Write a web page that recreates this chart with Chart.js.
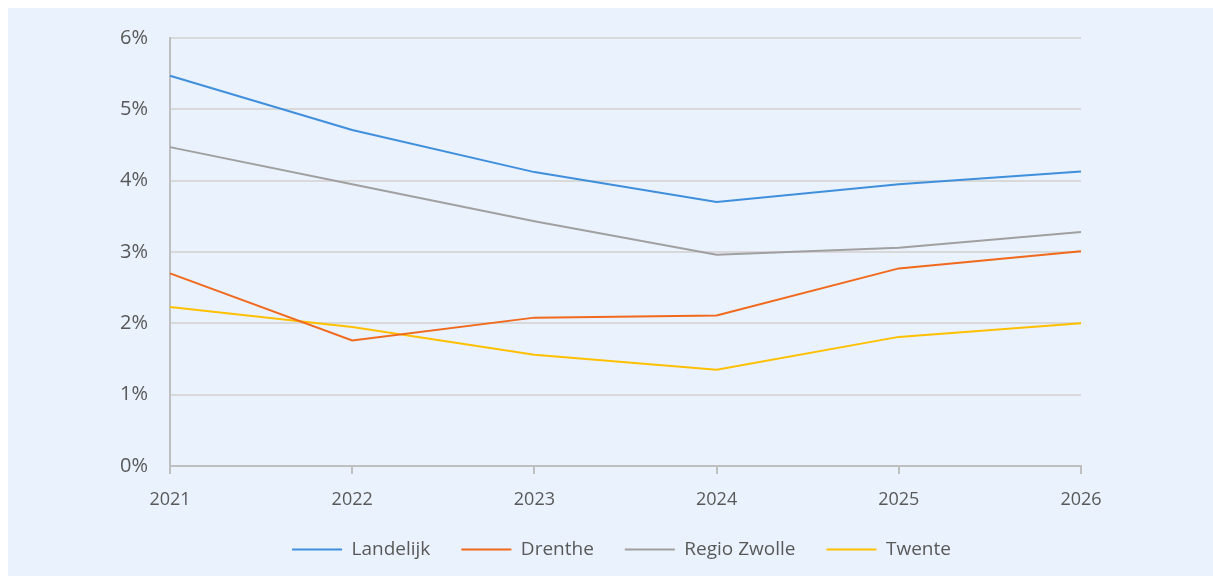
<!DOCTYPE html>
<html>
<head>
<meta charset="utf-8">
<script src="https://cdn.jsdelivr.net/npm/chart.js@4.4.1/dist/chart.umd.min.js"></script>
<style>
  html, body { margin: 0; padding: 0; background: #ffffff; }
  #wrap { position: absolute; left: 8px; top: 8px; width: 1205px; height: 568px; background: #eaf2fd; }
</style>
</head>
<body>
<div id="wrap"><canvas id="grafiek"></canvas></div>
<script>
// ---------- data ----------
const jaren = ["2021", "2022", "2023", "2024", "2025", "2026"];
const landelijk = [5.47, 4.71, 4.12, 3.70, 3.95, 4.13];
const drenthe = [2.70, 1.76, 2.08, 2.11, 2.77, 3.01];
const regioZwolle = [4.47, 3.95, 3.43, 2.96, 3.06, 3.28];
const twente = [2.23, 1.95, 1.56, 1.35, 1.81, 2.00];
const yTicks = [0, 1, 2, 3, 4, 5, 6];

const tekstKleur = "#595959";
const fontFam = "'Open Sans', Lato, sans-serif";

function lijn(label, data, kleur) {
  return {
    label, data,
    borderColor: kleur,
    backgroundColor: kleur,
    borderWidth: 2,
    pointRadius: 0,
    tension: 0,
    fill: false
  };
}

const ctx = document.getElementById("grafiek").getContext("2d");
new Chart(ctx, {
  type: "line",
  data: {
    labels: jaren,
    datasets: [
      lijn("Landelijk", landelijk, "#3f8fdc"),
      lijn("Drenthe", drenthe, "#f0691c"),
      lijn("Regio Zwolle", regioZwolle, "#a0a0a0"),
      lijn("Twente", twente, "#ffc000")
    ]
  },
  options: {
    responsive: true,
    maintainAspectRatio: false,
    animation: false,
    layout: { padding: { left: 22, right: 0, top: 30, bottom: 7 } },
    plugins: {
      tooltip: { enabled: false },
      legend: {
        position: "bottom",
        labels: {
          color: tekstKleur,
          font: { family: fontFam, size: 19 },
          boxWidth: 50,
          boxHeight: 2,
          padding: 31,
          generateLabels(chart) {
            return chart.data.datasets.map((d, i) => ({
              text: d.label,
              fillStyle: d.borderColor,
              strokeStyle: d.borderColor,
              lineWidth: 0,
              fontColor: tekstKleur,
              datasetIndex: i
            }));
          }
        }
      }
    },
    scales: {
      x: {
        offset: false,
        afterFit(axis) { axis.height = 43; axis.paddingLeft = 0; axis.paddingRight = 0; },
        grid: { display: true, drawOnChartArea: false, drawTicks: true, tickLength: 8, color: "#bfbfbf", lineWidth: 2 },
        border: { color: "#bfbfbf", width: 2 },
        ticks: { color: tekstKleur, font: { family: fontFam, size: 18 }, padding: 15, maxRotation: 0 }
      },
      y: {
        min: 0, max: 6,
        afterBuildTicks(axis) { axis.ticks = yTicks.map(v => ({ value: v })); },
        afterFit(axis) { axis.width = 140; axis.paddingTop = 0; axis.paddingBottom = 0; },
        grid: { color: "#d9d9d9", lineWidth: 2, drawTicks: false },
        border: { color: "#bfbfbf", width: 2 },
        ticks: {
          color: tekstKleur,
          font: { family: fontFam, size: 20 },
          padding: 22,
          callback: v => v + "%"
        }
      },
      // lege ruimte rechts van het plotgebied
      rechts: {
        position: "right",
        afterFit(axis) { axis.width = 132; axis.paddingTop = 0; axis.paddingBottom = 0; },
        grid: { display: false },
        border: { display: false },
        ticks: { display: false }
      }
    }
  }
});
</script>
</body>
</html>
